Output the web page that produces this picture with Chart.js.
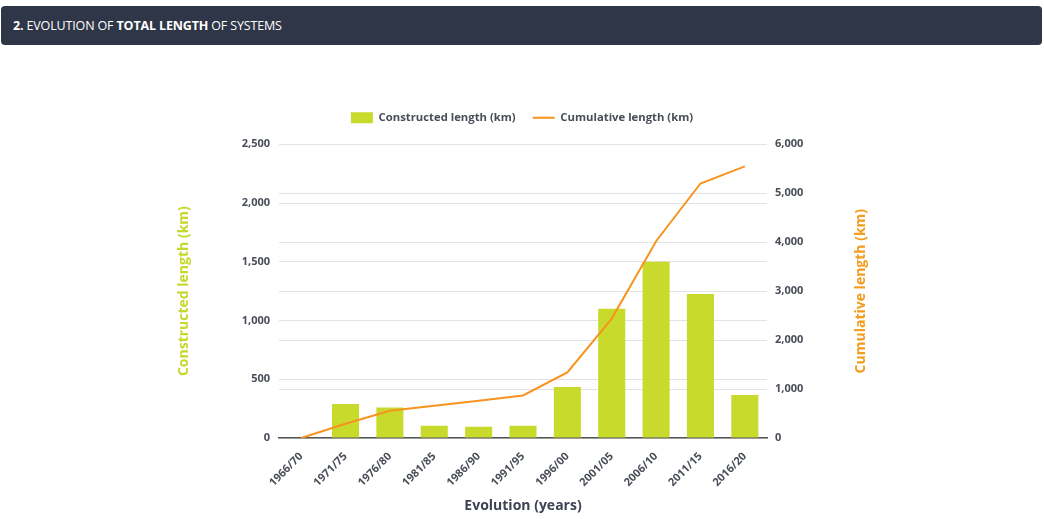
<!DOCTYPE html>
<html><head><meta charset="utf-8">
<script src="https://cdn.jsdelivr.net/npm/chart.js@4/dist/chart.umd.min.js"></script>
<style>
html,body{margin:0;padding:0;background:#fff;width:1044px;height:519px;overflow:hidden;font-family:"Open Sans",sans-serif;}
#hdr{position:absolute;left:1px;top:6px;width:1041px;height:39px;background:#2f3647;border-radius:4px;color:#fff;font-size:12.5px;line-height:39px;padding-left:12px;box-sizing:border-box;letter-spacing:-0.15px;}
#wrap{position:absolute;left:0;top:60px;width:1044px;height:459px;}
</style></head><body>
<div id="hdr"><b>2.</b> EVOLUTION OF <b>TOTAL LENGTH</b> OF SYSTEMS</div>
<div id="wrap"><canvas id="c"></canvas></div>
<script>
const categories = ['1966/70','1971/75','1976/80','1981/85','1986/90','1991/95','1996/00','2001/05','2006/10','2011/15','2016/20'];
const constructedLength = [0, 290, 260, 105, 95, 105, 435, 1100, 1500, 1225, 365];
const cumulativeLength = [0, 290, 555, 660, 760, 870, 1340, 2440, 4020, 5200, 5550];
const leftTicks = [0, 500, 1000, 1500, 2000, 2500];
const rightTicks = [0, 1000, 2000, 3000, 4000, 5000, 6000];

const tickColor = '#484d58';
const tickFont = {family:'"Open Sans"', size:11, weight:'bold'};

const rightTitle = {
  id:'rightTitle',
  afterDraw(chart){
    const s = chart.scales.y1, ctx = chart.ctx;
    ctx.save();
    ctx.translate(s.left + 94, (s.top + s.bottom)/2);
    ctx.rotate(-Math.PI/2);
    ctx.font = 'bold 14px "Open Sans"';
    ctx.fillStyle = '#f39c1f';
    ctx.textAlign = 'center';
    ctx.textBaseline = 'middle';
    ctx.fillText('Cumulative length (km)', 0, 0);
    ctx.restore();
  }
};
const legendGap = {
  id:'legendGap',
  beforeInit(chart){
    const f = chart.legend.fit;
    chart.legend.fit = function(){ f.bind(chart.legend)(); this.height += 11; };
  }
};

new Chart(document.getElementById('c'), {
  type:'bar',
  data:{
    labels:categories,
    datasets:[
      {type:'bar', label:'Constructed length (km)', data:constructedLength, yAxisID:'y',
       backgroundColor:'#c8da2b', barPercentage:0.61, categoryPercentage:1, pointStyle:'rect', order:2},
      {type:'line', label:'Cumulative length (km)', data:cumulativeLength, yAxisID:'y1',
       borderColor:'#f7931e', backgroundColor:'#f7931e', borderWidth:2, pointRadius:0, tension:0,
       pointStyle:'line', order:1}
    ]
  },
  plugins:[rightTitle, legendGap],
  options:{
    responsive:true, maintainAspectRatio:false, animation:false,
    layout:{padding:{left:170, right:170, top:35, bottom:0}},
    plugins:{
      legend:{position:'top', labels:{usePointStyle:true, pointStyleWidth:22, boxHeight:11, padding:17,
        sort:(a,b)=>a.datasetIndex-b.datasetIndex,
        color:'#484d58', font:{family:'"Open Sans"', size:11.3, weight:'bold'}}},
      tooltip:{enabled:false}
    },
    scales:{
      x:{
        grid:{display:false},
        border:{display:true, color:'#555', width:1.5},
        ticks:{color:tickColor, font:tickFont, maxRotation:45, minRotation:45, padding:4},
        title:{display:true, text:'Evolution (years)', color:'#3d4350',
          font:{family:'"Open Sans"', size:14, weight:'bold'}, padding:{top:0, bottom:5}},
        afterFit(s){ s.height = 81; }
      },
      y:{
        position:'left', min:0, max:2500,
        afterBuildTicks(s){ s.ticks = leftTicks.map(v=>({value:v})); },
        grid:{color:'#e3e3e3', drawTicks:false},
        border:{display:false},
        ticks:{color:tickColor, font:tickFont, padding:9},
        title:{display:true, text:'Constructed length (km)', color:'#c5d92d',
          font:{family:'"Open Sans"', size:14, weight:'bold'}, padding:{top:6, bottom:4}},
        afterFit(s){ s.width = 109; }
      },
      y1:{
        position:'right', min:0, max:6000,
        afterBuildTicks(s){ s.ticks = rightTicks.map(v=>({value:v})); },
        grid:{color:'#e3e3e3', drawTicks:false},
        border:{display:false},
        ticks:{color:tickColor, font:tickFont, padding:8},
        afterFit(s){ s.width = 107; }
      }
    }
  }
});
</script>
</body></html>
